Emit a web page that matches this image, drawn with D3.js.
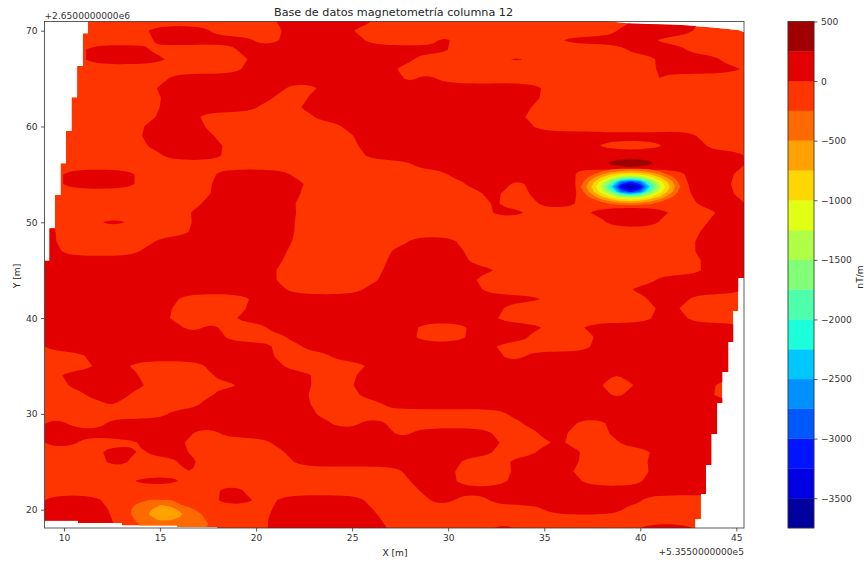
<!DOCTYPE html>
<html>
<head>
<meta charset="utf-8">
<script src="https://d3js.org/d3.v7.min.js"></script>
<style>
  body { margin: 0; background: #fff; }
  text { font-family: "DejaVu Sans", sans-serif; fill: #262626; }
  .tick line, .frame { stroke: #333; stroke-width: 0.8; }
  .tick text { font-size: 9.1px; fill: #333; }
</style>
</head>
<body>
<svg id="chart" width="867" height="562"></svg>
<script>
// contour edges in nT/m, bottom to top
const levels = [-3750, -3500, -3250, -3000, -2750, -2500, -2250, -2000, -1750, -1500, -1250, -1000, -750, -500, -250, 0, 250, 500];
const bandColors = ['#00009f', '#0000e3', '#0014ff', '#0059ff', '#0090ff', '#00c8ff', '#1bffdb', '#4dffaa', '#80ff77', '#b0ff47', '#e0ff14', '#ffd700', '#ffa200', '#ff6a00', '#ff3500', '#e30000', '#a00000'];
const colorbarTicks = [500, 0, -500, -1000, -1500, -2000, -2500, -3000, -3500];
const xTicks = [10, 15, 20, 25, 30, 35, 40, 45];
const yTicks = [20, 30, 40, 50, 60, 70];

// where the 0..250 band sits, row by row: y=71 first, y=18 last, as x from/to pairs (m)
const redSpans = [
  [21.0,26.1, 39.6,43.1],
  [14.2,17.6, 21.4,24.9, 38.8,42.8],
  [14.7,19.9, 21.3,25.6, 29.4,30.3, 35.7,40.6],
  [11.0,14.4, 19.0,30.1, 39.3,42.4],
  [11.0,15.5, 19.7,28.2, 32.9,34.2, 34.4,34.7, 40.9,44.2],
  [19.3,27.2, 40.8,45.5],
  [15.4,27.6, 28.4,29.4, 40.6,41.1],
  [14.7,21.5, 23.4,35.0, 40.6,40.9],
  [15.1,20.9, 22.7,34.8],
  [15.0,20.1, 22.2,34.3],
  [14.8,16.9, 23.0,33.9],
  [14.1,17.3, 24.5,34.4],
  [14.0,17.8, 25.1,43.0],
  [14.3,18.3, 25.3,37.6, 41.4,43.4],
  [15.1,18.3, 25.6,45.5],
  [28.2,35.7, 36.5,43.2, 43.9,45.5],
  [9.8,13.8, 17.8,21.8, 30.0,36.6, 42.4,44.8],
  [9.8,13.8, 17.7,22.6, 30.9,33.2, 34.1,36.6, 42.5,44.7],
  [17.7,22.3, 31.8,32.7, 34.2,36.7, 42.6,44.8],
  [17.2,22.0, 32.2,32.7, 34.7,36.7, 42.9,45.5],
  [9.5,10.2, 16.5,22.1, 32.2,34.2, 37.2,41.7, 44.1,45.5],
  [9.5,9.9, 11.7,13.5, 16.7,22.0, 38.2,41.0, 43.5,45.5],
  [8.9,9.6, 16.6,22.0, 43.1,45.5],
  [8.9,9.6, 14.7,21.9, 27.9,30.5, 42.8,45.5],
  [8.9,9.8, 14.0,21.6, 27.0,30.8, 42.8,45.5],
  [8.9,21.4, 26.8,31.0, 43.2,45.5],
  [8.9,21.0, 26.6,32.6, 43.3,45.5],
  [8.9,21.0, 26.4,31.3, 40.8,45.5],
  [8.9,9.6, 10.6,21.5, 25.6,31.7, 39.4,45.5],
  [8.9,15.9, 19.8,35.1, 38.7,39.2, 40.4,42.5],
  [8.9,15.6, 19.5,32.8, 40.9,41.9],
  [8.9,15.4, 18.8,32.4, 40.7,42.4],
  [8.9,16.2, 17.2,18.1, 20.6,28.3, 31.1,35.1, 36.8,45.5],
  [8.9,18.3, 21.6,28.2, 31.0,34.2, 37.7,45.5],
  [8.9,20.9, 22.4,32.3, 37.5,45.5],
  [11.2,20.9, 23.9,32.8, 34.0,41.2, 41.7,45.5],
  [11.7,13.2, 17.4,21.4, 25.9,45.5],
  [9.7,13.9, 17.8,23.0, 25.2,38.5, 39.0,45.5],
  [10.2,14.3, 16.6,17.4, 19.2,22.9, 25.0,37.9, 39.8,43.8],
  [11.1,13.4, 17.8,22.7, 25.3,38.4, 39.2,43.7],
  [12.2,12.7, 17.1,22.8, 26.6,40.8, 41.4,45.5],
  [15.4,23.1, 33.1,45.5],
  [8.9,10.2, 12.2,23.9, 25.4,26.8, 33.9,36.6, 38.3,45.5],
  [8.9,16.7, 18.1,27.1, 28.1,32.3, 34.7,36.2, 38.3,45.5],
  [8.9,10.7, 14.0,16.2, 20.8,32.8, 35.5,36.0, 38.9,45.5],
  [11.9,13.8, 14.3,16.4, 17.0,17.7, 21.5,32.3, 34.6,37.0, 40.7,45.5],
  [12.1,13.4, 15.9,16.9, 21.9,30.6, 33.1,36.8, 40.3,45.5],
  [16.4,16.9, 27.7,30.3, 33.3,36.4, 40.5,45.5],
  [13.4,16.2, 28.0,30.3, 33.2,36.9, 40.2,45.5],
  [18.0,19.4, 28.5,45.5],
  [8.9,12.0, 17.9,20.0, 21.0,25.7, 29.0,30.3, 32.1,40.1],
  [8.9,12.3, 20.8,26.1, 35.0,39.1],
  [8.9,12.5, 20.6,26.5],
  [8.9,12.7, 20.6,26.9, 32.2,33.6, 39.8,42.9]
];

// the strong low: x = 36.5..42.5 and y = 56.2..51.2, every 0.5 m
const lowValues = [
  [0, 0, 0, 0, 0, 0, 0, 0, 0, 0, 0, 0, 0],
  [0, 0, 0, -30, -70, -110, -130, -110, -70, -30, 0, 0, 0],
  [0, 0, -100, -300, -530, -680, -740, -680, -530, -300, -100, 0, 0],
  [0, -100, -370, -760, -1090, -1390, -1490, -1390, -1090, -760, -370, -100, 0],
  [-40, -220, -670, -1130, -1730, -2720, -3080, -2720, -1730, -1130, -670, -220, -40],
  [-50, -300, -780, -1320, -2250, -3350, -3650, -3350, -2250, -1320, -780, -300, -50],
  [-40, -220, -670, -1130, -1730, -2720, -3080, -2720, -1730, -1130, -670, -220, -40],
  [0, -100, -370, -760, -1090, -1390, -1490, -1390, -1090, -760, -370, -100, 0],
  [0, 0, -100, -300, -530, -680, -740, -680, -530, -300, -100, 0, 0],
  [0, 0, 0, -30, -70, -110, -130, -110, -70, -30, 0, 0, 0],
  [0, 0, 0, 0, 0, 0, 0, 0, 0, 0, 0, 0, 0]
];

// the small high just above it: x = 38..41 and y = 56.7..55.7, every 0.5 m
const highValues = [
  [150, 190, 220, 235, 220, 190, 150],
  [150, 290, 320, 330, 320, 290, 150],
  [150, 190, 220, 235, 220, 190, 150]
];

// weak low at the bottom left: x = 13..18 and y = 21.5..18, every 0.5 m
const cornerValues = [
  [-100, -100, -100, -100, -100, -100, -100, -100, -100, -100, -100],
  [-100, -120, -180, -260, -265, -255, -200, -150, -110, -100, -100],
  [-120, -200, -330, -430, -500, -470, -270, -200, -150, -110, -100],
  [-170, -250, -380, -490, -570, -560, -480, -320, -210, -130, -100],
  [-170, -250, -400, -520, -600, -600, -540, -420, -290, -170, -110],
  [-140, -210, -340, -450, -530, -520, -470, -390, -300, -230, -130],
  [-120, -170, -270, -340, -400, -410, -380, -340, -280, -250, -130],
  [-120, -160, -260, -320, -380, -400, -380, -340, -280, -240, -130]
];

// outline of the surveyed area (x, y in m)
const surveyEdge = [
  [11.25,71.2],[11.25,69.73],[10.99,69.73],[10.99,66.35],[10.68,66.35],[10.68,63.05],[10.39,63.05],[10.39,59.53],
  [10.10,59.53],[10.10,56.16],[9.82,56.16],[9.82,52.85],[9.53,52.85],[9.53,49.4],[9.24,49.4],[9.24,45.99],[8.9,45.99],
  [8.9,18.85],[10.73,18.85],[10.73,18.6],[13.02,18.6],[13.02,18.35],[15.9,18.35],[15.9,18.2],[17.97,18.2],[17.97,17.9],
  [42.87,17.9],[42.87,19],[43.16,19],[43.16,21.63],[43.42,21.63],[43.42,24.66],[43.7,24.66],[43.7,27.9],[44,27.9],
  [44,31.14],[44.27,31.14],[44.27,34.37],[44.58,34.37],[44.58,37.5],[44.84,37.5],[44.84,40.74],[45.1,40.74],[45.1,44.19],
  [45.5,44.19],[45.5,69.8],[45.1,70.07],[43.8,70.33],[42.1,70.6],[39.5,70.75],[37.3,71.2]
];

const svg = d3.select('#chart');
const x = d3.scaleLinear().domain([9, 45.4]).range([44.8, 744]);
const y = d3.scaleLinear().domain([18.09, 70.96]).range([528, 21.5]);
const color = d3.scaleThreshold().domain(levels.slice(1, -1)).range(bandColors);

svg.append('clipPath').attr('id', 'survey')
  .append('path')
  .attr('d', d3.line().x(d => x(d[0])).y(d => y(d[1]))(surveyEdge) + 'Z');
svg.append('clipPath').attr('id', 'axes-box')
  .append('rect')
  .attr('x', x(9)).attr('y', y(70.96))
  .attr('width', x(45.4) - x(9)).attr('height', y(18.09) - y(70.96));

const plot = svg.append('g').attr('clip-path', 'url(#axes-box)')
  .append('g').attr('clip-path', 'url(#survey)');

// everything not covered below sits in the -250..0 band
plot.append('path')
  .attr('d', d3.line().x(d => x(d[0])).y(d => y(d[1]))(surveyEdge) + 'Z')
  .attr('fill', color(-100));

// sign = -1 draws v <= level, nested inwards, for the lows
function drawField(rows, x0, y0, stepX, stepY, drawLevels, sign, blurX, blurY) {
  const h = rows.length, w = rows[0].length;
  const values = rows.flat().map(v => v * sign);
  if (blurX) d3.blur2({data: values, width: w, height: h}, blurX, blurY);
  const contours = d3.contours().size([w, h]).thresholds(drawLevels.map(v => v * sign))(values);
  const path = d3.geoPath(d3.geoTransform({
    point: function(i, j) {
      this.stream.point(x(x0 + (i - 0.5) * stepX), y(y0 - (j - 0.5) * stepY));
    }
  }));
  plot.selectAll(null)
    .data(contours)
    .enter()
    .append('path')
    .attr('d', path)
    .attr('fill', d => color(d.value * sign + (sign < 0 ? -1 : 1)));
}

// turn the row spans into a grid: distance to the nearest span edge, + inside, - outside
// square root so that short spans still stand out against their neighbours
const gridX = d3.range(8.5, 46.01, 0.25);
function spanRow(spans) {
  return gridX.map(function(px) {
    let dist = 1.5, inside = false;
    for (let i = 0; i < spans.length; i += 2) {
      if (px >= spans[i] && px <= spans[i + 1]) inside = true;
      dist = Math.min(dist, Math.abs(px - spans[i]), Math.abs(px - spans[i + 1]));
    }
    return (inside ? 1 : -1) * Math.sqrt(dist) * 80;
  });
}
const redRows = redSpans.map(spanRow);
const redGrid = [redRows[0]].concat(redRows, [redRows[redRows.length - 1]]);

drawField(redGrid, 8.5, 72, 0.25, 1, [0], 1, 0.5, 0.06);
drawField(highValues, 38, 56.7, 0.5, 0.5, [250], 1);
const lowLevels = levels.filter(v => v <= -250).reverse();
drawField(cornerValues, 13, 21.5, 0.5, 0.5, lowLevels.slice(0, 3), -1);
drawField(lowValues, 36.5, 56.2, 0.5, 0.5, lowLevels, -1);

// axes
const gx = svg.append('g').attr('transform', 'translate(0,528)')
  .call(d3.axisBottom(x).tickValues(xTicks).tickSize(3.5).tickPadding(3.5));
const gy = svg.append('g').attr('transform', 'translate(44.5,0)')
  .call(d3.axisLeft(y).tickValues(yTicks).tickSize(3.5).tickPadding(3.5));
gx.select('.domain').remove();
gy.select('.domain').remove();
svg.append('rect').attr('class', 'frame')
  .attr('x', 44.5).attr('y', 21.5).attr('width', 699.5).attr('height', 506.5)
  .attr('fill', 'none');

svg.append('text').attr('x', 393.5).attr('y', 16).attr('text-anchor', 'middle')
  .style('font-size', '11.2px').text('Base de datos magnetometría columna 12');
svg.append('text').attr('x', 395).attr('y', 556).attr('text-anchor', 'middle')
  .style('font-size', '9.1px').text('X [m]');
svg.append('text').attr('transform', 'translate(20,276) rotate(-90)').attr('text-anchor', 'middle')
  .style('font-size', '9.1px').text('Y [m]');
svg.append('text').attr('x', 44.5).attr('y', 19).style('font-size', '9.1px').style('fill', '#333')
  .text('+2.6500000000e6');
svg.append('text').attr('x', 744).attr('y', 555).attr('text-anchor', 'end')
  .style('font-size', '9.1px').style('fill', '#333').text('+5.3550000000e5');

// colorbar
const cbar = d3.scaleLinear().domain([-3750, 500]).range([528, 21.5]);
svg.selectAll('.band')
  .data(bandColors)
  .enter()
  .append('rect')
  .attr('class', 'band')
  .attr('x', 788)
  .attr('width', 26)
  .attr('y', (c, i) => cbar(levels[i + 1]))
  .attr('height', (c, i) => cbar(levels[i]) - cbar(levels[i + 1]))
  .attr('fill', c => c)
  .attr('stroke', c => c)
  .attr('stroke-width', 0.3);
svg.append('rect').attr('class', 'frame')
  .attr('x', 788).attr('y', 21.5).attr('width', 26).attr('height', 506.5)
  .attr('fill', 'none');
const gc = svg.append('g').attr('transform', 'translate(814,0)')
  .call(d3.axisRight(cbar).tickValues(colorbarTicks).tickSize(3.5).tickPadding(3.5)
    .tickFormat(v => String(v).replace('-', '\u2212')));
gc.select('.domain').remove();
svg.append('text').attr('transform', 'translate(863,277) rotate(-90)').attr('text-anchor', 'middle')
  .style('font-size', '9.1px').text('nT/m');
</script>
</body>
</html>
